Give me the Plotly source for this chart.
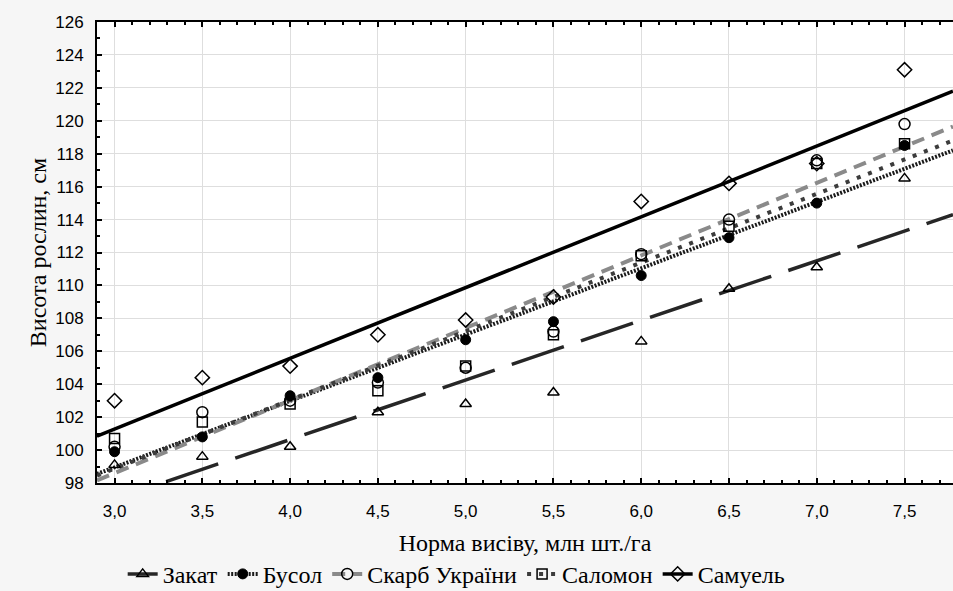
import plotly.graph_objects as go

# ---- data ----
x_rates = [3.0, 3.5, 4.0, 4.5, 5.0, 5.5, 6.0, 6.5, 7.0, 7.5]
series_names = ["Закат", "Бусол", "Скарб України", "Саломон", "Самуель"]

zakat = [99.1, 99.6, 100.2, 102.3, 102.8, 103.5, 106.6, 109.8, 111.1, 116.5]
busol = [99.9, 100.8, 103.3, 104.4, 106.7, 107.8, 110.6, 112.9, 115.0, 118.5]
skarb = [100.2, 102.3, 103.0, 104.1, 105.0, 107.2, 111.9, 114.0, 117.6, 119.8]
salomon = [100.7, 101.7, 102.8, 103.6, 105.1, 107.0, 111.8, 113.6, 117.4, 118.6]
samuel = [103.0, 104.4, 105.1, 107.0, 107.9, 109.3, 115.1, 116.2, 117.4, 123.1]

# trend line end values (at x = 2.9 and x = 7.776)
trend_x = [2.9, 7.776]
trend_zakat = [96.66, 114.3]
trend_busol = [98.55, 118.2]
trend_skarb = [98.16, 119.65]
trend_salomon = [98.45, 118.8]
trend_samuel = [100.84, 121.8]

y_ticks = list(range(98, 127, 2))
x_ticks = x_rates

values = [zakat, busol, skarb, salomon, samuel]
trends = [trend_zakat, trend_busol, trend_skarb, trend_salomon, trend_samuel]

line_styles = [
    dict(color="#262626", width=3.5, dash="55px,18px"),
    dict(color="#1a1a1a", width=4, dash="2px,1.5px"),
    dict(color="#8a8a8a", width=4, dash="13px,8px"),
    dict(color="#3c3c3c", width=4, dash="4px,8px"),
    dict(color="#000000", width=3.5, dash="solid"),
]
marker_styles = [
    dict(symbol="triangle-up-open", size=10, color="black", line=dict(width=1.5, color="black")),
    dict(symbol="circle", size=10, color="black", line=dict(width=1, color="black")),
    dict(symbol="circle-open", size=11, color="black", line=dict(width=1.5, color="black")),
    dict(symbol="square-open", size=10, color="black", line=dict(width=1.5, color="black")),
    dict(symbol="diamond-open", size=11, color="black", line=dict(width=1.5, color="black")),
]

fig = go.Figure()
for name, tr, ls in zip(series_names, trends, line_styles):
    fig.add_trace(go.Scatter(x=trend_x, y=tr, mode="lines", line=ls,
                             showlegend=False, hoverinfo="skip"))
for name, vals, ms in zip(series_names, values, marker_styles):
    fig.add_trace(go.Scatter(x=x_rates, y=vals, mode="markers", marker=ms,
                             name=name, showlegend=False))
for name, ls, ms in zip(series_names, line_styles, marker_styles):
    fig.add_trace(go.Scatter(x=[None], y=[None], mode="lines+markers",
                             line=ls, marker=ms, name=name, showlegend=True))

axis_common = dict(
    showline=True, linecolor="black", linewidth=2,
    ticks="inside", ticklen=5, tickwidth=2, tickcolor="black",
    showgrid=True, gridcolor="#dedede", gridwidth=1, zeroline=False,
    tickfont=dict(family="Liberation Sans, Arial", size=17, color="black"),
    title_font=dict(family="Liberation Serif, Times New Roman", size=24, color="black"),
    automargin=False,
)

fig.update_xaxes(
    range=[2.9, 7.776], tickvals=x_ticks, ticktext=[f"{v:.1f}".replace(".", ",") for v in x_ticks],
    mirror="ticks", ticklabelstandoff=12,
    minor=dict(dtick=0.1, ticks="inside", ticklen=3, tickwidth=1.5, tickcolor="black", showgrid=False),
    title_text="Норма висіву, млн шт./га", title_standoff=14,
    **axis_common,
)
fig.update_yaxes(
    range=[98, 126], tickvals=y_ticks, mirror=False, ticklabelstandoff=8,
    minor=dict(dtick=1, ticks="inside", ticklen=3, tickwidth=1.5, tickcolor="black", showgrid=False),
    title_text="Висота рослин, см", title_standoff=2,
    **axis_common,
)

fig.update_layout(
    width=953, height=591,
    margin=dict(l=97, r=0, t=22, b=108, autoexpand=False),
    paper_bgcolor="#f6f6f6", plot_bgcolor="white",
    showlegend=True,
    legend=dict(orientation="h", x=0.03, xanchor="left", y=-0.198, yanchor="middle",
                font=dict(family="Liberation Serif, Times New Roman", size=24, color="black"),
                bgcolor="rgba(0,0,0,0)", tracegroupgap=0),
)

fig.write_html("out.html")
